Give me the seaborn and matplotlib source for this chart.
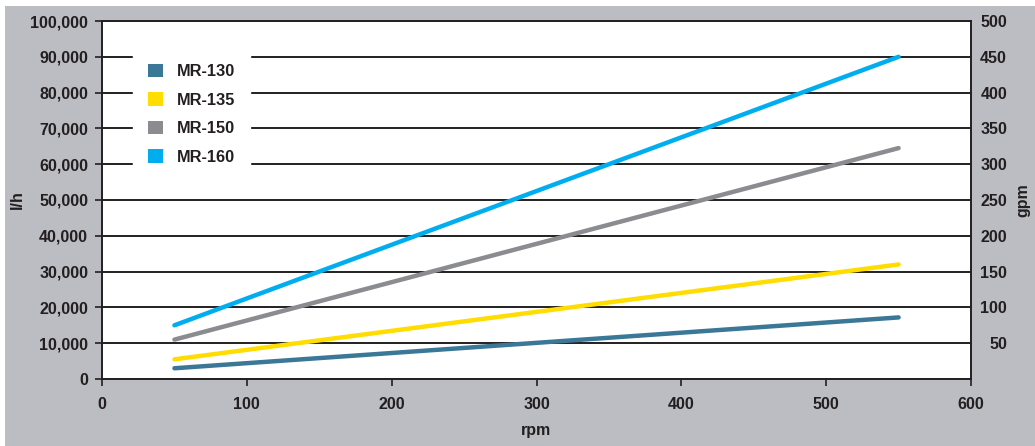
import pandas as pd
import seaborn as sns
import matplotlib.pyplot as plt
from matplotlib.patches import Patch, Rectangle

# Data
rpm = [50, 550]
mr130 = [3000, 17200]
mr135 = [5500, 32000]
mr150 = [11000, 64500]
mr160 = [15000, 90000]

models = ["MR-130", "MR-135", "MR-150", "MR-160"]
left_ticks = list(range(0, 100001, 10000))
right_ticks = list(range(50, 501, 50))
x_ticks = list(range(0, 601, 100))

colors = {"MR-130": "#3b7797", "MR-135": "#ffdd00",
          "MR-150": "#8b8c90", "MR-160": "#00aeef"}

df = pd.DataFrame({
    "rpm": rpm * 4,
    "flow": mr130 + mr135 + mr150 + mr160,
    "model": [m for m in models for _ in rpm],
})

sns.set_style("white")
plt.rcParams["font.family"] = ["Liberation Sans Narrow", "Liberation Sans", "DejaVu Sans"]
plt.rcParams["font.weight"] = "bold"
txt = "#231f20"

fig = plt.figure(figsize=(10.35, 4.46), dpi=100)
fig.patch.set_facecolor("white")
fig.add_artist(Rectangle((5 / 1035, 0), 1, 440 / 446, transform=fig.transFigure,
                         facecolor="#bbbdc3", edgecolor="none", zorder=-10))

ax = fig.add_axes([102 / 1035, (446 - 379) / 446, 869 / 1035, 358 / 446])
ax.set_facecolor("white")

sns.lineplot(data=df, x="rpm", y="flow", hue="model", palette=colors,
             linewidth=3.2, legend=False, ax=ax)

ax.set_xlim(0, 600)
ax.set_ylim(0, 100000)
ax.set_xticks(x_ticks)
ax.set_yticks(left_ticks)
ax.set_yticklabels([f"{v:,}" for v in left_ticks])
ax.set_axisbelow(True)
ax.yaxis.grid(True, color="#231f20", linewidth=1.4)
ax.xaxis.grid(False)
for s in ax.spines.values():
    s.set_color("#231f20")
    s.set_linewidth(1.4)

ax.tick_params(axis="both", direction="out", length=5, width=1.2, color="#231f20",
               labelsize=11.5, labelcolor=txt)
ax.tick_params(axis="x", pad=8)
ax.tick_params(axis="y", pad=5)
ax.tick_params(left=True, bottom=True)

ax.set_xlabel("rpm", fontsize=11.5, fontweight="bold", color=txt)
ax.set_ylabel("l/h", fontsize=11.5, fontweight="bold", color=txt)
ax.xaxis.set_label_coords(0.5, (379 - 423) / 358)
ax.yaxis.set_label_coords((25 - 102) / 869, 0.5)

ax2 = ax.twinx()
ax2.set_ylim(0, 500)
ax2.set_yticks(right_ticks)
ax2.tick_params(axis="y", length=0, labelsize=11.5, labelcolor=txt, pad=26)
for lab in ax2.get_yticklabels():
    lab.set_horizontalalignment("right")
ax2.set_ylabel("gpm", fontsize=11.5, fontweight="bold", color=txt, rotation=90)
ax2.yaxis.set_label_coords((1015 - 102) / 869, 0.5)
for s in ax2.spines.values():
    s.set_visible(False)

handles = [Patch(facecolor=colors[m], edgecolor="none", label=m) for m in models]
leg = ax.legend(handles=handles, loc="upper left",
                bbox_to_anchor=((133 - 102) / 869, (379 - 49) / 358),
                borderaxespad=0, frameon=True, fancybox=False,
                facecolor="white", edgecolor="white", framealpha=1,
                handlelength=0.9, handleheight=0.9, handletextpad=0.9,
                labelspacing=0.8, borderpad=0.9,
                prop={"size": 11.8, "weight": "bold"})
for t in leg.get_texts():
    t.set_color(txt)

plt.savefig("out.png", dpi=100)
